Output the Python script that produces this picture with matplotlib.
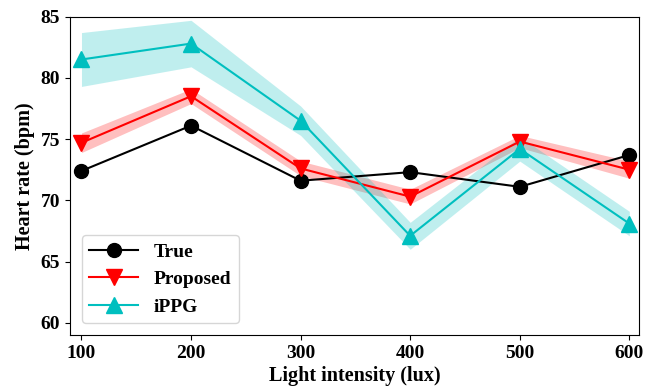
import matplotlib
matplotlib.use("Agg")
import matplotlib.pyplot as plt
import numpy as np

# Data
lux = np.array([100, 200, 300, 400, 500, 600])
hr_true = np.array([72.4, 76.1, 71.6, 72.3, 71.1, 73.7])
hr_proposed = np.array([74.7, 78.5, 72.6, 70.3, 74.8, 72.5])
hr_ippg = np.array([81.5, 82.8, 76.5, 67.1, 74.2, 68.1])
proposed_err = np.array([0.8, 0.6, 0.6, 0.6, 0.5, 0.7])
ippg_err = np.array([2.2, 1.9, 1.2, 1.1, 1.0, 1.0])

plt.rcParams["font.family"] = ["Liberation Serif", "DejaVu Serif"]
plt.rcParams["font.weight"] = "bold"

fig = plt.figure(figsize=(6.45, 3.87), dpi=100)
ax = fig.add_axes([0.1085, 0.1344, 0.8825, 0.8226])

ax.plot(lux, hr_true, "k-o", markersize=10, linewidth=1.5, label="True")
ax.plot(lux, hr_proposed, "r-v", markersize=12, linewidth=1.5, label="Proposed")
ax.fill_between(lux, hr_proposed - proposed_err, hr_proposed + proposed_err,
                color="r", alpha=0.25, linewidth=0)
ax.plot(lux, hr_ippg, "c-^", markersize=12, linewidth=1.5, label="iPPG")
ax.fill_between(lux, hr_ippg - ippg_err, hr_ippg + ippg_err,
                color="c", alpha=0.25, linewidth=0)

ax.set_xlim(89.5, 609)
ax.set_ylim(59, 85)
ax.set_xticks(lux)
ax.set_yticks([60, 65, 70, 75, 80, 85])
ax.tick_params(labelsize=14)
for t in ax.get_xticklabels() + ax.get_yticklabels():
    t.set_fontweight("bold")

ax.set_xlabel("Light intensity (lux)", fontsize=14.5, fontweight="bold", labelpad=3)
ax.set_ylabel("Heart rate (bpm)", fontsize=14.5, fontweight="bold", labelpad=4)

leg = ax.legend(loc="lower left", prop={"weight": "bold", "size": 14},
                handlelength=2.5, borderaxespad=0.6)

fig.savefig("out.png", dpi=100)
